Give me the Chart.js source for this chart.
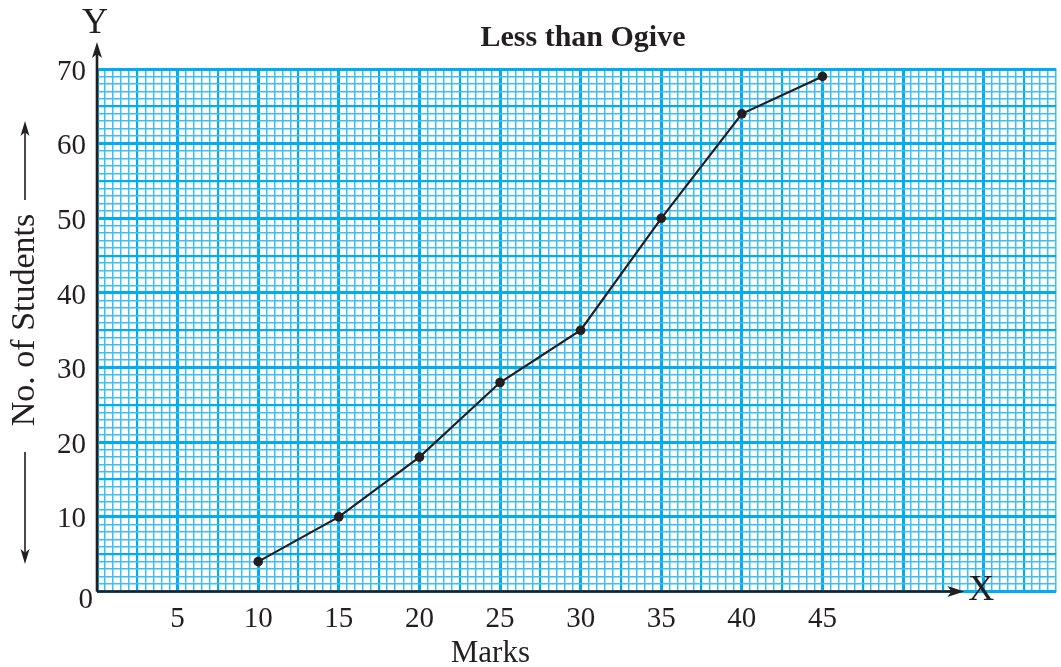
<!DOCTYPE html>
<html>
<head>
<meta charset="utf-8">
<script src="https://cdn.jsdelivr.net/npm/chart.js@4.4.1/dist/chart.umd.min.js"></script>
<style>
html,body{margin:0;padding:0;background:#fff;}
#wrap{width:1061px;height:667px;}
</style>
</head>
<body>
<div id="wrap"><canvas id="c" width="1061" height="667"></canvas></div>
<script>
// ---- data ----
const marks = [10, 15, 20, 25, 30, 35, 40, 45];
const students = [4, 10, 18, 28, 35, 50, 64, 69];
const xTickLabels = [5, 10, 15, 20, 25, 30, 35, 40, 45];
const yTickLabels = [0, 10, 20, 30, 40, 50, 60, 70];
const chartTitle = 'Less than Ogive';
const xTitle = 'Marks';
const yTitle = 'No. of Students';

const INK = '#231f20';
const BLUE = '#00aeef';
const THIN = '#3dbff0';
const SERIF = '"Liberation Serif", "DejaVu Serif", serif';

function arrowHead(ctx, x, y, dir, len, half) {
  ctx.beginPath();
  if (dir === 'up') { ctx.moveTo(x, y); ctx.lineTo(x - half, y + len); ctx.lineTo(x, y + len * 0.75); ctx.lineTo(x + half, y + len); }
  if (dir === 'down') { ctx.moveTo(x, y); ctx.lineTo(x - half, y - len); ctx.lineTo(x, y - len * 0.75); ctx.lineTo(x + half, y - len); }
  if (dir === 'right') { ctx.moveTo(x, y); ctx.lineTo(x - len, y - half); ctx.lineTo(x - len * 0.75, y); ctx.lineTo(x - len, y + half); }
  ctx.closePath();
  ctx.fill();
}

const decor = {
  id: 'decor',
  beforeDatasetsDraw(chart) {
    const ctx = chart.ctx;
    const xs = chart.scales.x, ys = chart.scales.y;
    const x0 = xs.getPixelForValue(0), y0 = ys.getPixelForValue(0);
    const yTop = ys.getPixelForValue(70);
    ctx.save();
    ctx.fillStyle = INK; ctx.strokeStyle = INK;
    ctx.lineWidth = 2.6;
    ctx.beginPath();
    ctx.moveTo(x0, y0); ctx.lineTo(x0, yTop - 20);
    ctx.moveTo(x0, y0); ctx.lineTo(xs.getPixelForValue(53.3), y0);
    ctx.stroke();
    arrowHead(ctx, x0, yTop - 27, 'up', 16, 5);
    arrowHead(ctx, xs.getPixelForValue(53.8), y0, 'right', 17, 5.5);
    ctx.restore();
  },
  afterDraw(chart) {
    const ctx = chart.ctx;
    const xs = chart.scales.x, ys = chart.scales.y;
    const x0 = xs.getPixelForValue(0), y0 = ys.getPixelForValue(0);
    ctx.save();
    ctx.fillStyle = INK; ctx.strokeStyle = INK;
    ctx.font = '29px ' + SERIF;
    ctx.textAlign = 'right'; ctx.textBaseline = 'middle';
    yTickLabels.forEach(v => {
      if (v === 0) {
        ctx.fillText(String(v), x0 - 4, y0 + 9);
      } else {
        ctx.fillText(String(v), x0 - 11, ys.getPixelForValue(v) + 3);
      }
    });
    ctx.textAlign = 'center'; ctx.textBaseline = 'middle';
    xTickLabels.forEach(v => ctx.fillText(String(v), xs.getPixelForValue(v), y0 + 28));
    ctx.font = '31px ' + SERIF;
    ctx.fillText(xTitle, xs.getPixelForValue(24.4), y0 + 62);
    ctx.font = '36px ' + SERIF;
    ctx.fillText('Y', x0 - 2, 24);
    ctx.fillText('X', xs.getPixelForValue(54.85), y0 - 1);
    ctx.font = 'bold 30px ' + SERIF;
    ctx.fillText(chartTitle, 583, 38);
    ctx.save();
    ctx.translate(25, 320);
    ctx.rotate(-Math.PI / 2);
    ctx.font = '34px ' + SERIF;
    ctx.fillText(yTitle, 0, 0);
    ctx.restore();
    ctx.lineWidth = 1.6;
    ctx.beginPath();
    ctx.moveTo(25, 200); ctx.lineTo(25, 130);
    ctx.moveTo(25, 452); ctx.lineTo(25, 555);
    ctx.stroke();
    arrowHead(ctx, 25, 121, 'up', 15, 4.5);
    arrowHead(ctx, 25, 564, 'down', 15, 4.5);
    ctx.restore();
  }
};

function xGridWidth(v) {
  if (Math.abs(v % 5) < 1e-9) return 3;
  if (Math.abs(v % 2.5) < 1e-9) return 2.2;
  return 1.5;
}
function yGridWidth(v) {
  if (Math.abs(v % 10) < 1e-9) return 3;
  if (Math.abs(v % 5) < 1e-9) return 2.2;
  return 1.5;
}

new Chart(document.getElementById('c'), {
  type: 'line',
  data: {
    datasets: [{
      data: marks.map((m, i) => ({ x: m, y: students[i] })),
      borderColor: INK,
      backgroundColor: INK,
      borderWidth: 2.2,
      pointRadius: 4.8,
      pointBackgroundColor: INK,
      pointBorderWidth: 0,
      tension: 0,
      fill: false
    }]
  },
  options: {
    responsive: false,
    animation: false,
    layout: { padding: { left: 97, right: 0, top: 69, bottom: 75.5 } },
    plugins: { legend: { display: false }, tooltip: { enabled: false }, title: { display: false } },
    scales: {
      x: {
        type: 'linear', min: 0, max: 59.5,
        afterFit: s => { s.height = 0; },
        border: { display: false },
        ticks: { display: false, stepSize: 0.5, autoSkip: false },
        grid: {
          drawTicks: false,
          color: c => (xGridWidth(c.tick.value) > 2 ? BLUE : THIN),
          lineWidth: c => xGridWidth(c.tick.value)
        }
      },
      y: {
        type: 'linear', min: 0, max: 70,
        afterFit: s => { s.width = 0; },
        border: { display: false },
        ticks: { display: false, stepSize: 1, autoSkip: false },
        grid: {
          drawTicks: false,
          color: c => (yGridWidth(c.tick.value) > 2 ? BLUE : THIN),
          lineWidth: c => yGridWidth(c.tick.value)
        }
      }
    }
  },
  plugins: [decor]
});
</script>
</body>
</html>
